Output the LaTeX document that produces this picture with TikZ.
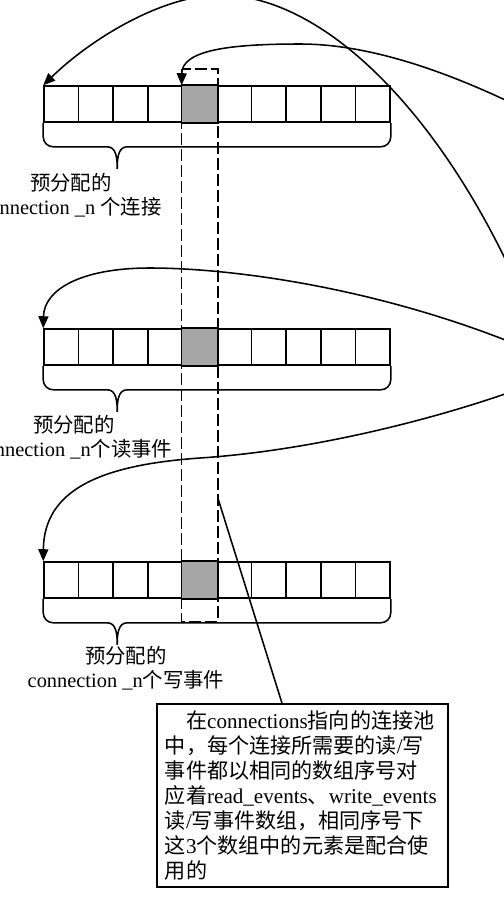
\documentclass[tikz,border=0pt]{standalone}
\usepackage{fontspec}
\setmainfont{Liberation Serif}
\newfontfamily\cjk{Noto Sans CJK SC}
\usetikzlibrary{calc,arrows.meta}
\definecolor{cellgray}{RGB}{166,166,166}

\begin{document}
\begin{tikzpicture}[
            x=0.025cm, y=-0.025cm,
            line width=1.1pt,
            cell/.style={draw=black, fill=white, minimum width=.865cm, minimum height=.9cm, inner sep=0pt},
            pointer/.style={-{Triangle[length=.3cm, width=.25cm]}},
            poolbox/.style={draw=black, dash pattern=on .3cm off .1cm},
            arraytext/.style={draw=none, text=black, align=center, font=\fontsize{14.5pt}{17pt}\selectfont},
            note/.style={draw=black, text width=6.875cm, align=left, inner xsep=.2cm, inner ysep=.12cm, minimum height=4.575cm, font=\fontsize{15pt}{17.7pt}\selectfont},
        ]
            \useasboundingbox (0, 0) rectangle (504, 910);
            \clip (0, 0) rectangle (504, 910);
            %% arrays
            \foreach \name/\y in {conn/104, read/347, write/580} {
                \foreach \i in {0,...,9}
                    \node[cell] at ({61.3 + 34.6*\i}, \y) (\name-\i) {};
                \fill[cellgray, draw=black] (\name-4.south west) rectangle (\name-4.north east);
                %% brace
                \draw (\name-0.south west) -- ++(0, 14) to[out=-90, in=180] ++(10, 10) -- ++(54, 0)
                    to[out=0, in=90] ++(10, 22) to[out=90, in=180] ++(10, -22) -- ($(\name-9.south east) + (-10, 24)$)
                    to[out=0, in=-90] ++(10, -10) -- (\name-9.south east);
            }
            %% labels
            \node[arraytext] at (71, 195) (conn-label) {{\cjk 预分配的}\\connection \_n {\cjk 个连接}};
            \node[arraytext] at (74, 437) (read-label) {{\cjk 预分配的}\\connection \_n{\cjk 个读事件}};
            \node[arraytext] at (126, 668) (write-label) {{\cjk 预分配的}\\connection \_n{\cjk 个写事件}};
            %% dashed column
            \draw[poolbox] ($(conn-4.north west) + (0, -16)$) coordinate (pool-nw) rectangle ($(write-4.south east) + (0, 23)$) coordinate (pool-se);
            %% note
            \node[note] at (302.5, 795.5) (note) {\hspace*{1em}{\cjk 在}connections{\cjk 指向的连接池}\\
                {\cjk 中，每个连接所需要的读}/{\cjk 写}\\
                {\cjk 事件都以相同的数组序号对}\\
                {\cjk 应着}read\_events{\cjk 、}write\_events\\
                {\cjk 读}/{\cjk 写事件数组，相同序号下}\\
                {\cjk 这}3{\cjk 个数组中的元素是配合使}\\
                {\cjk 用的}};
            \coordinate (pool-pin) at ($(pool-se) + (0, -124)$);
            \draw (pool-pin) -- ($(note.north west)!.43!(note.north east)$);
            %% pointers
            \coordinate (conn-src) at (515, 280);
            \coordinate (pin-src) at (530, 112);
            \coordinate (read-src) at (530, 350);
            \coordinate (write-src) at (530, 385);
            \draw[pointer] (conn-src) .. controls (440, 115) and (325, -5) .. (220, -5) .. controls (165, -5) and (94, 36) .. (conn-0.north west);
            \draw[pointer] (pin-src) .. controls (450, 72) and (370, 44) .. (300, 44) .. controls (230, 44) and (182, 50) .. (conn-4.north west);
            \draw[pointer] (read-src) .. controls (380, 287) and (230, 268) .. (150, 268) .. controls (80, 268) and (44, 290) .. (read-0.north west);
            \draw[pointer] (write-src) .. controls (450, 415) and (320, 450) .. (200, 458) .. controls (100, 465) and (44, 490) .. (write-0.north west);

        \end{tikzpicture}
\end{document}
